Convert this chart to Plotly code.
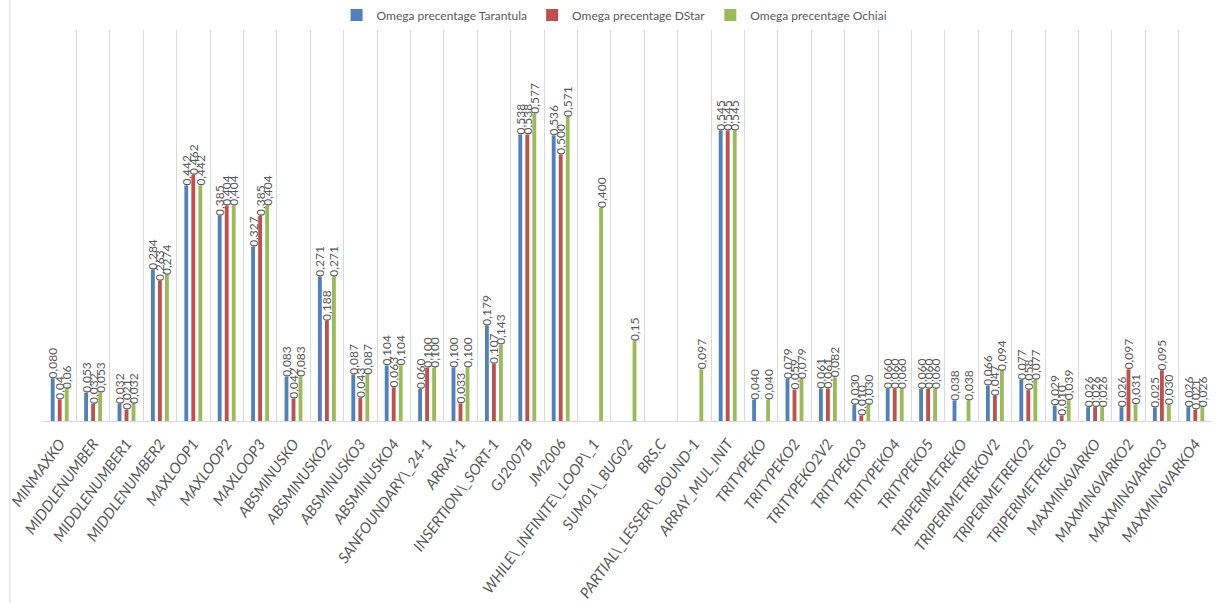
import plotly.graph_objects as go

# Benchmark programs
categories = [
    "MINMAXKO", "MIDDLENUMBER", "MIDDLENUMBER1", "MIDDLENUMBER2", "MAXLOOP1",
    "MAXLOOP2", "MAXLOOP3", "ABSMINUSKO", "ABSMINUSKO2", "ABSMINUSKO3",
    "ABSMINUSKO4", "SANFOUNDARY\\_24-1", "ARRAY-1", "INSERTION\\_SORT-1",
    "GJ2007B", "JM2006", "WHILE\\_INFINITE\\_LOOP\\_1", "SUM01\\_BUG02", "BRS.C",
    "PARTIAL\\_LESSER\\_BOUND-1", "ARRAY_MUL_INIT", "TRITYPEKO", "TRITYPEKO2",
    "TRITYPEKO2V2", "TRITYPEKO3", "TRITYPEKO4", "TRITYPEKO5", "TRIPERIMETREKO",
    "TRIPERIMETREKOV2", "TRIPERIMETREKO2", "TRIPERIMETREKO3", "MAXMIN6VARKO",
    "MAXMIN6VARKO2", "MAXMIN6VARKO3", "MAXMIN6VARKO4",
]

# Omega percentages as reported (None = no value)
tarantula = [
    "0.080", "0.053", "0.032", "0.284", "0.442", "0.385", "0.327", "0.083",
    "0.271", "0.087", "0.104", "0.060", "0.100", "0.179", "0.538", "0.536",
    None, None, None, None, "0.545", "0.040", "0.079", "0.061", "0.030",
    "0.060", "0.060", "0.038", "0.066", "0.077", "0.029", "0.026", "0.026",
    "0.025", "0.026",
]
dstar = [
    "0.04", "0.032", "0.021", "0.263", "0.462", "0.404", "0.385", "0.042",
    "0.188", "0.043", "0.063", "0.100", "0.033", "0.107", "0.538", "0.500",
    None, None, None, None, "0.545", None, "0.059", "0.061", "0.010",
    "0.060", "0.060", None, "0.047", "0.058", "0.010", "0.026", "0.097",
    "0.095", "0.021",
]
ochiai = [
    "0.06", "0.053", "0.032", "0.274", "0.442", "0.404", "0.404", "0.083",
    "0.271", "0.087", "0.104", "0.100", "0.100", "0.143", "0.577", "0.571",
    "0.400", "0.15", None, "0.097", "0.545", "0.040", "0.079", "0.082", "0.030",
    "0.060", "0.060", "0.038", "0.094", "0.077", "0.039", "0.026", "0.031",
    "0.030", "0.026",
]

series = [
    ("Omega precentage Tarantula", tarantula, "#4F81BD"),
    ("Omega precentage DStar", dstar, "#C0504D"),
    ("Omega precentage Ochiai", ochiai, "#9BBB59"),
]

FONT = "Lato"
GREY = "#595959"

fig = go.Figure()
for name, raw, color in series:
    vals = [float(s) if s is not None else None for s in raw]
    labels = [s.replace(".", ",") if s is not None else "" for s in raw]
    fig.add_trace(go.Bar(
        name=name,
        x=categories,
        y=vals,
        text=labels,
        textposition="outside",
        textangle=-90,
        constraintext="none",
        cliponaxis=False,
        textfont=dict(family=FONT, size=12, color=GREY),
        marker=dict(color=color, line=dict(width=0)),
    ))

fig.update_layout(
    width=1217,
    height=603,
    barmode="group",
    bargap=0.37,
    bargroupgap=0.45,
    plot_bgcolor="white",
    paper_bgcolor="white",
    margin=dict(l=43, r=5, t=28, b=182),
    font=dict(family=FONT, color=GREY),
    legend=dict(
        orientation="h",
        xref="container", yref="container",
        x=0.505, xanchor="center",
        y=0.975, yanchor="middle",
        font=dict(family=FONT, size=12, color=GREY),
        itemwidth=30,
        traceorder="normal",
    ),
    xaxis=dict(
        type="category",
        tickson="boundaries",
        showgrid=True,
        gridcolor="#D9D9D9",
        gridwidth=1,
        showline=True,
        linecolor="#D9D9D9",
        linewidth=1,
        ticks="",
        tickangle=-54,
        ticklabelstandoff=7,
        automargin=False,
        tickfont=dict(family=FONT, size=15, color=GREY, style="italic"),
    ),
    yaxis=dict(
        range=[0, 0.735],
        visible=False,
        showgrid=False,
        zeroline=False,
    ),
    shapes=[dict(
        type="line", xref="paper", yref="paper",
        x0=-0.0283, x1=-0.0283, y0=-0.47, y1=1.08,
        line=dict(color="#D9D9D9", width=1),
    )],
)

fig.write_html("out.html")
